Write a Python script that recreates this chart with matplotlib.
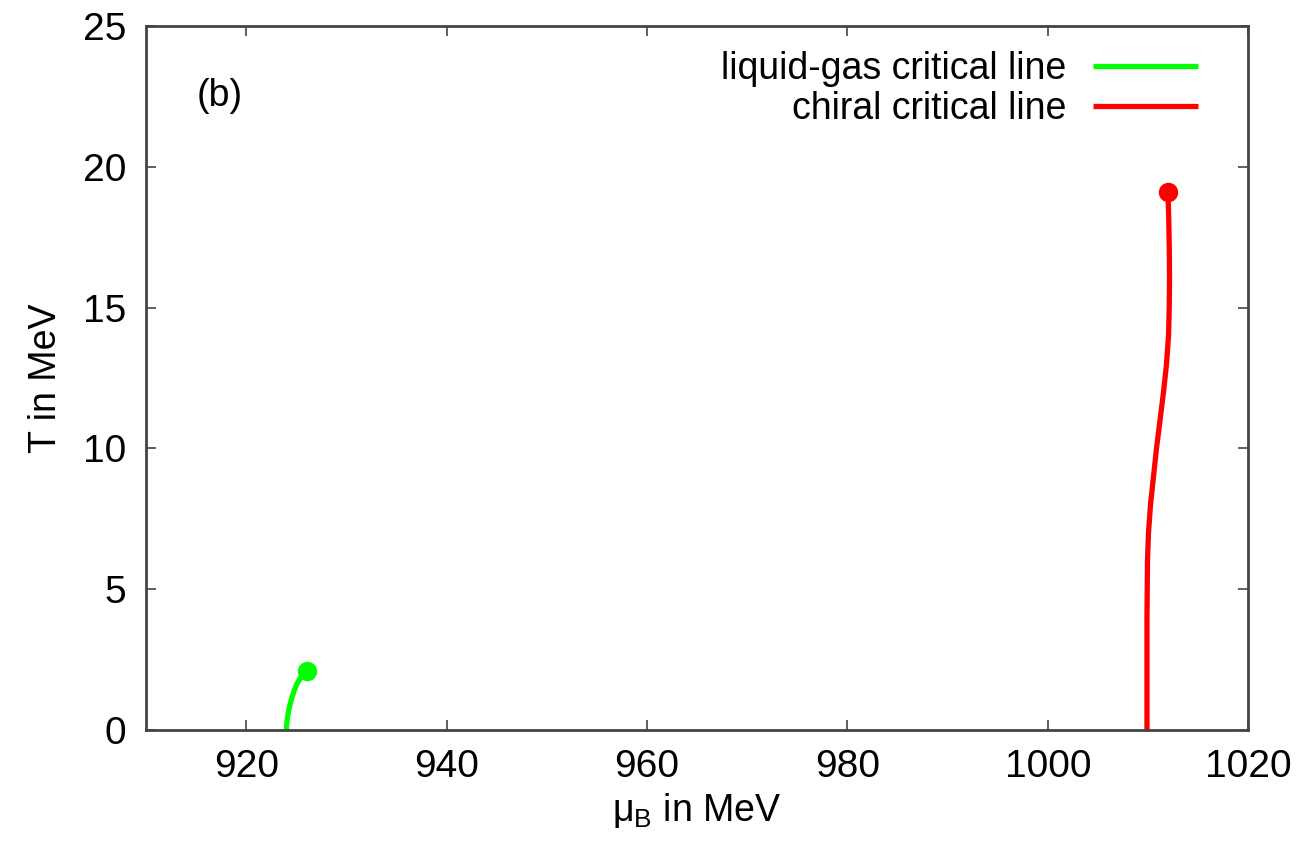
import matplotlib
matplotlib.use('Agg')
import matplotlib.pyplot as plt

plt.rcParams['font.family'] = ['Liberation Sans', 'DejaVu Sans']
plt.rcParams['mathtext.default'] = 'regular'

# liquid-gas critical line (mu_B, T)
lg_mu = [924.0, 924.1, 924.3, 924.6, 925.0, 925.5, 926.1]
lg_T = [0.0, 0.4, 0.8, 1.2, 1.6, 1.9, 2.1]

# chiral critical line
ch_mu = [1009.9, 1009.9, 1009.95, 1010.05, 1010.25, 1010.55, 1010.85, 1011.2,
         1011.55, 1011.85, 1012.05, 1012.12, 1012.15, 1012.13, 1012.08, 1012.0]
ch_T = [0.0, 4.0, 6.0, 7.0, 8.0, 9.0, 10.0, 11.0,
        12.0, 13.0, 14.0, 15.0, 16.0, 17.0, 18.0, 19.1]

xticks = [920, 940, 960, 980, 1000, 1020]
yticks = [0, 5, 10, 15, 20, 25]

fig = plt.figure(figsize=(13.07, 8.51), dpi=100)
ax = fig.add_axes([0.1117, 0.1422, 0.8433, 0.8272])

ax.plot(lg_mu, lg_T, color='#00ff00', lw=3.8, solid_capstyle='butt',
        solid_joinstyle='round', label='liquid-gas critical line')
ax.plot(lg_mu[-1], lg_T[-1], 'o', color='#00ff00', ms=13)
ax.plot(ch_mu, ch_T, color='#ff0000', lw=3.8, solid_capstyle='butt',
        solid_joinstyle='round', label='chiral critical line')
ax.plot(ch_mu[-1], ch_T[-1], 'o', color='#ff0000', ms=13)

ax.set_xlim(910, 1020)
ax.set_ylim(0, 25)
ax.set_xticks(xticks)
ax.set_yticks(yticks)
ax.tick_params(direction='in', length=7, width=1.2, top=True, right=True,
               labelsize=28, pad=14, color='#444444')
for s in ax.spines.values():
    s.set_linewidth(2)
    s.set_color('#444444')

ax.set_xlabel('\u03bc$_B$ in MeV', fontsize=27, labelpad=4)
ax.set_ylabel('T in MeV', fontsize=27, labelpad=14)
ax.text(917.4, 22.5, '(b)', fontsize=27, ha='center', va='center')

leg = ax.legend(loc='upper right', frameon=False, markerfirst=False,
                fontsize=27, handlelength=2.8, handletextpad=0.7,
                labelspacing=0.1, bbox_to_anchor=(0.985, 1.012))
for t in leg.get_texts():
    t.set_ha('right')

fig.savefig('out.png', dpi=100)
